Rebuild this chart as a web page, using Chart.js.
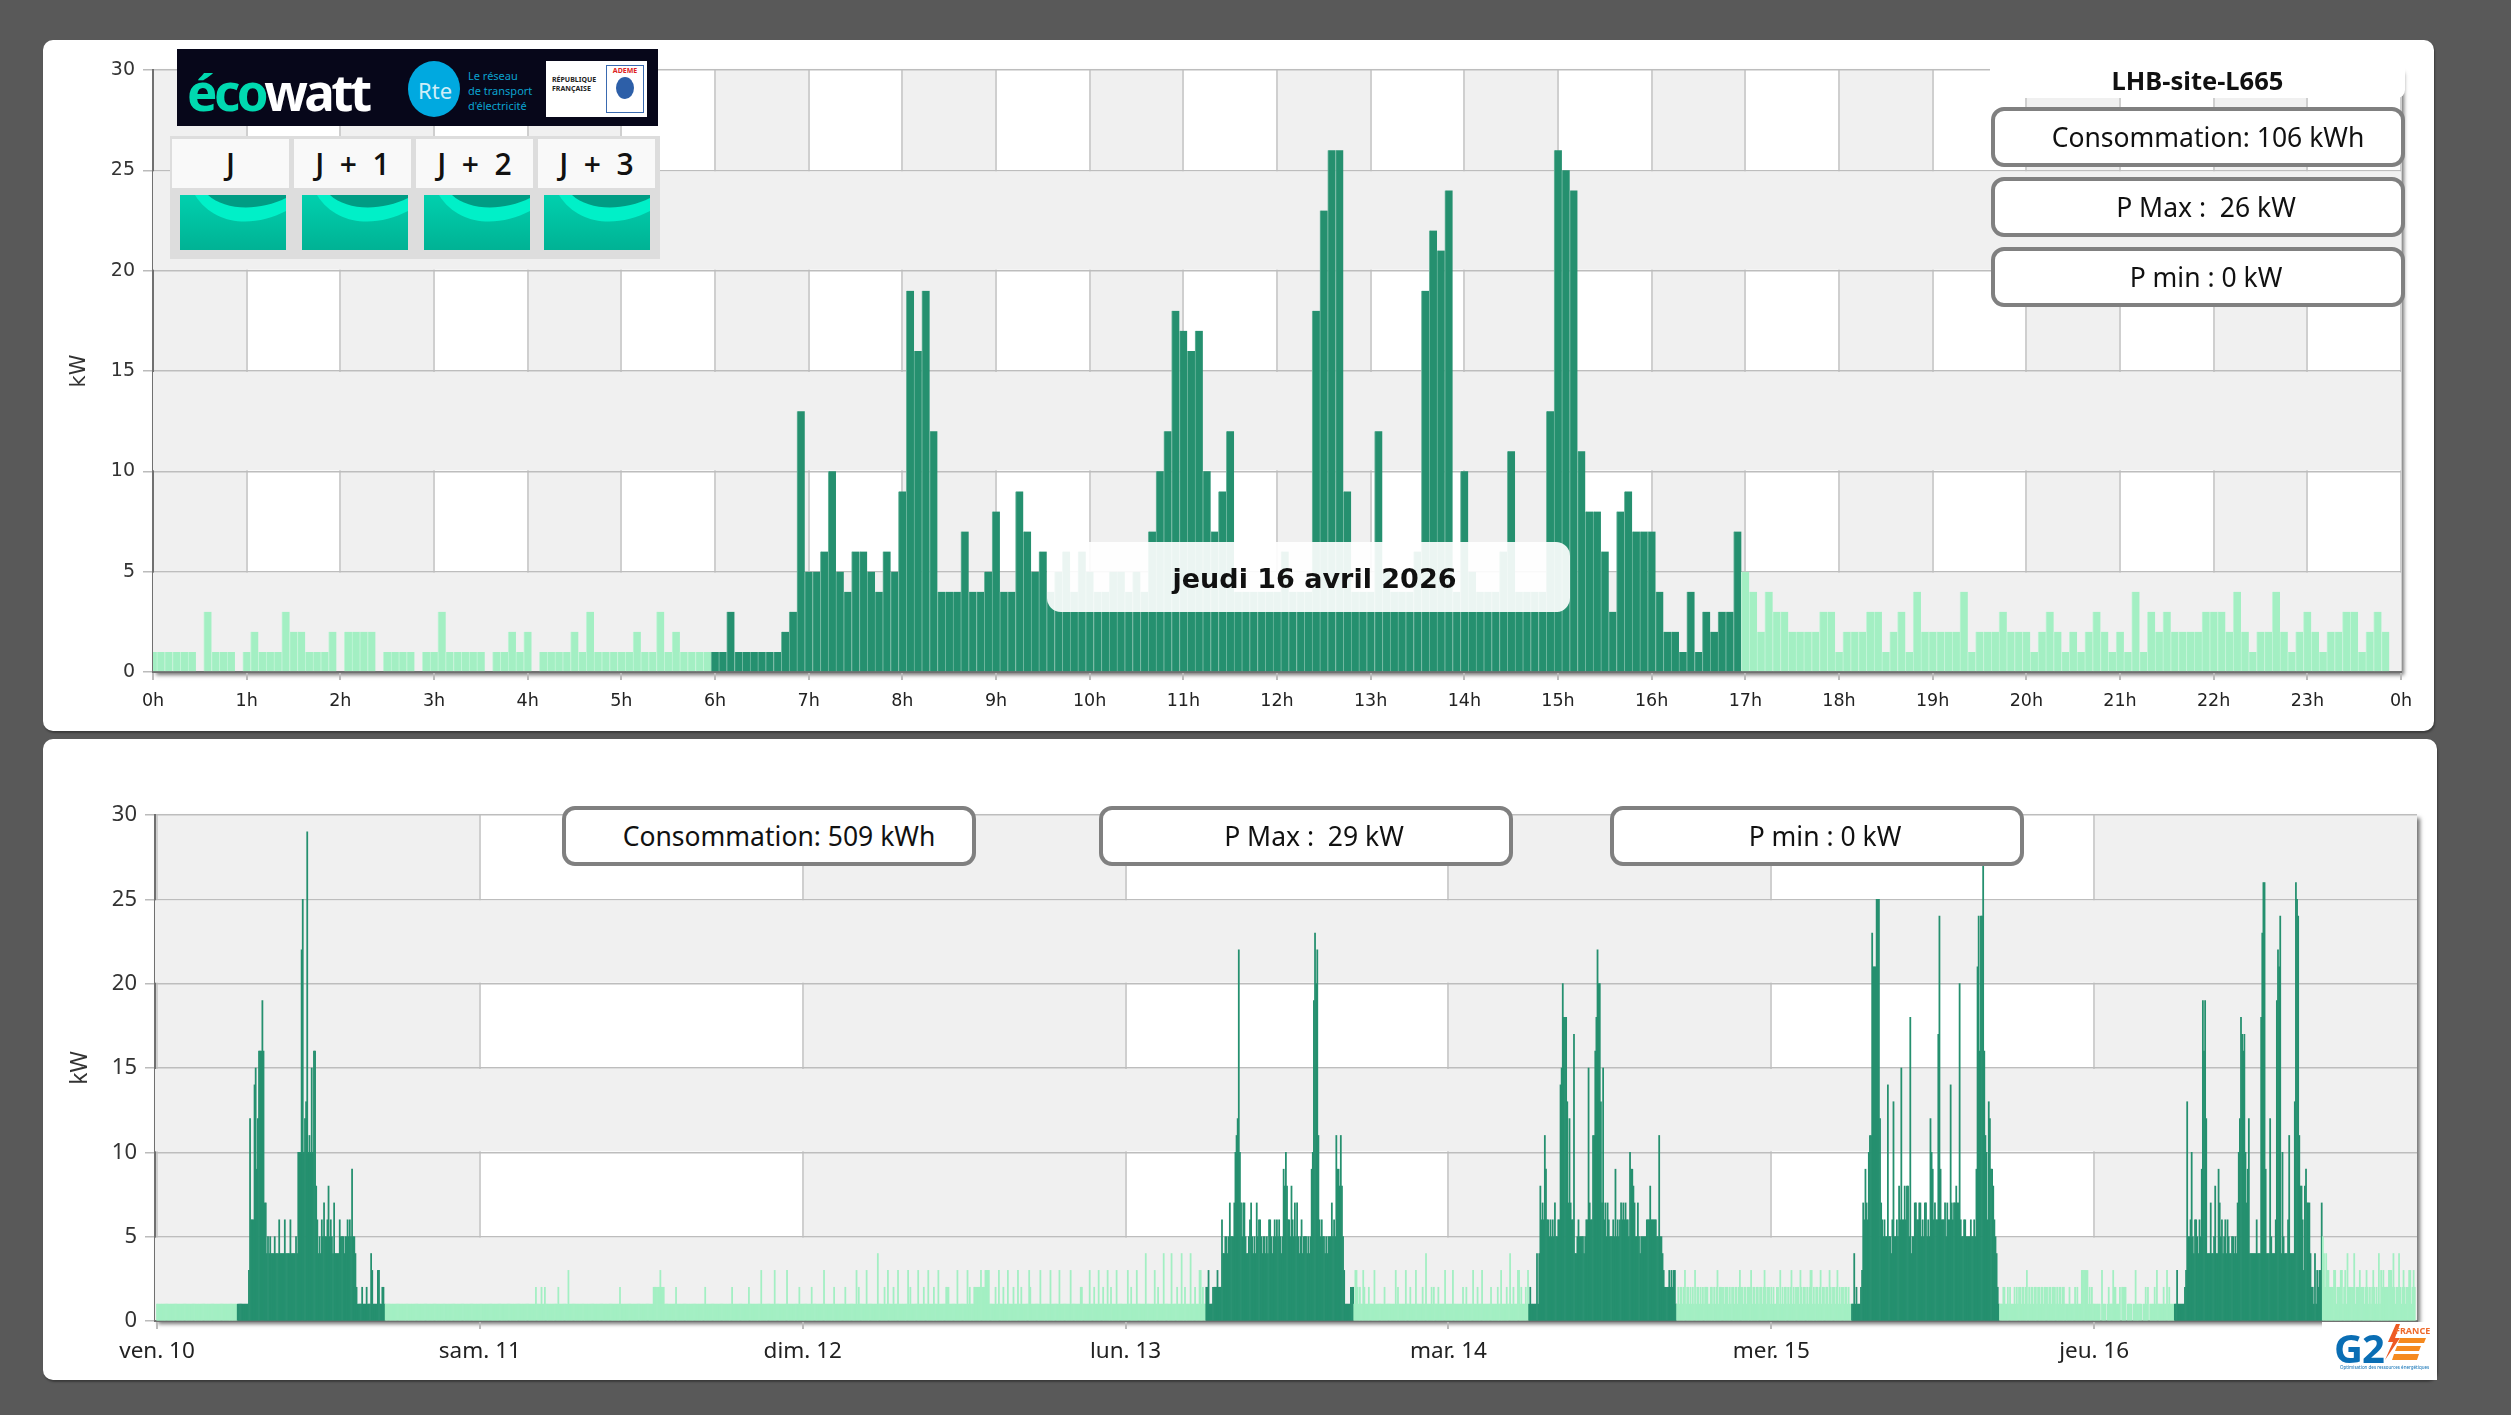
<!DOCTYPE html>
<html lang="fr">
<head>
<meta charset="utf-8">
<title>LHB-site-L665</title>
<script src="https://cdn.jsdelivr.net/npm/chart.js@4"></script>
<style>
    html, body { margin: 0; padding: 0; width: 2511px; height: 1415px; overflow: hidden; background: #595959; }
    .card { position: absolute; background: #fff; border-radius: 10px; box-shadow: 1px 2px 2px rgba(0,0,0,.35); }
    canvas { position: absolute; left: 0; top: 0; }
    .pill { position: absolute; box-sizing: border-box; width: 414px; height: 60px; background: #fff; border: 4px solid #808080; border-radius: 13px;
            font: 26.5px "Noto Sans", sans-serif; color: #111; display: flex; align-items: center; justify-content: center; white-space: pre; }
    #siteTitle { position: absolute; left: 1990px; top: 40px; width: 415px; height: 58px; background: #fff; border-radius: 0 0 8px 0;
            font: bold 25.5px "Noto Sans", sans-serif; color: #111; text-align: center; line-height: 80px; }
    #dateBox { position: absolute; left: 1047px; top: 542px; width: 523px; height: 70px; border-radius: 14px; background: rgba(255,255,255,.91);
            font: bold 27px "DejaVu Sans", sans-serif; color: #111; display: flex; align-items: center; justify-content: center; padding: 3px 0 0 12px; box-sizing: border-box; }
    #ecoLogo { position: absolute; left: 177px; top: 49px; width: 481px; height: 77px; background: #07071a; overflow: hidden; }
    #ecoLogo span { position: absolute; white-space: nowrap; }
    #ecoTable { position: absolute; left: 170px; top: 136px; width: 490px; height: 123px; background: #ddd; }
    .jHead { position: absolute; top: 3px; width: 117px; height: 49px; background: rgba(255,255,255,.82); font: 600 30px "Open Sans", sans-serif; color: #111;
            display: flex; align-items: center; justify-content: center; white-space: pre; }
    .jCell { position: absolute; top: 59px; width: 106px; height: 55px; }
    #g2Logo { position: absolute; left: 2322px; top: 1322px; width: 115px; height: 58px; background: #fff; }
    #g2Logo span { position: absolute; white-space: nowrap; }
</style>
</head>
<body>
<div class="card" style="left:43px;top:40px;width:2391px;height:691px"><canvas id="day-chart" width="2391" height="691"></canvas></div>
<div class="card" style="left:43px;top:739px;width:2394px;height:641px"><canvas id="week-chart" width="2394" height="641"></canvas></div>

<div id="ecoLogo">
    <span style="left:10px;top:7px;font:bold 51px 'Noto Sans',sans-serif;letter-spacing:-3.5px;color:#00d9b0">éco<span style="position:static;color:#fff">watt</span></span>
    <svg style="position:absolute;left:231px;top:12px" width="52" height="56"><ellipse cx="26" cy="28" rx="26" ry="28" fill="#00a9e0"/></svg>
    <span style="left:241px;top:26px;font:22px 'Noto Sans',sans-serif;color:#cfeef8">Rte</span>
    <span style="left:291px;top:19px;font:11px/15px 'Noto Sans',sans-serif;color:#0aa2cf">Le réseau<br>de transport<br>d'électricité</span>
    <div style="position:absolute;left:369px;top:12px;width:101px;height:56px;background:#fff">
        <span style="left:6px;top:14px;font:bold 7px/9px 'Noto Sans',sans-serif;color:#222">RÉPUBLIQUE<br>FRANÇAISE</span>
        <span style="left:60px;top:4px;width:36px;height:46px;border:1px solid #3a6ab0;font:bold 7px 'Noto Sans',sans-serif;color:#d22;text-align:center">ADEME</span>
        <svg style="position:absolute;left:69px;top:16px" width="20" height="22"><ellipse cx="10" cy="11" rx="9" ry="11" fill="#2d5fa8"/></svg>
    </div>
</div>
<div id="ecoTable">
    <div class="jHead" style="left:2px">J</div>
    <div class="jHead" style="left:124px">J  +  1</div>
    <div class="jHead" style="left:246px">J  +  2</div>
    <div class="jHead" style="left:368px">J  +  3</div>
    <svg class="jCell" style="left:10px" viewBox="0 0 106 55" preserveAspectRatio="none"><use href="#wave"/></svg>
    <svg class="jCell" style="left:132px" viewBox="0 0 106 55" preserveAspectRatio="none"><use href="#wave"/></svg>
    <svg class="jCell" style="left:254px" viewBox="0 0 106 55" preserveAspectRatio="none"><use href="#wave"/></svg>
    <svg class="jCell" style="left:374px" viewBox="0 0 106 55" preserveAspectRatio="none"><use href="#wave"/></svg>
</div>
<svg width="0" height="0" style="position:absolute">
    <defs>
        <linearGradient id="waveFill" x1="0" y1="0" x2="0" y2="1"><stop offset="0" stop-color="#00d0ae"/><stop offset="1" stop-color="#00b294"/></linearGradient>
        <g id="wave">
            <rect width="106" height="55" fill="url(#waveFill)"/>
            <path d="M15 0 C35 32 75 32 106 16 L106 0 Z" fill="#00f0c8"/>
            <path d="M28 0 C45 16 80 16 106 3 L106 0 Z" fill="#009c84"/>
        </g>
    </defs>
</svg>

<div id="siteTitle">LHB-site-L665</div>
<div class="pill" style="left:1991px;top:107px;padding-left:20px">Consommation: 106 kWh</div>
<div class="pill" style="left:1991px;top:177px;padding-left:16px">P Max :  26 kW</div>
<div class="pill" style="left:1991px;top:247px;padding-left:16px">P min : 0 kW</div>
<div id="dateBox">jeudi 16 avril 2026</div>

<div class="pill" style="left:562px;top:806px;padding-left:20px">Consommation: 509 kWh</div>
<div class="pill" style="left:1099px;top:806px;padding-left:16px">P Max :  29 kW</div>
<div class="pill" style="left:1610px;top:806px;padding-left:16px">P min : 0 kW</div>

<div id="g2Logo">
    <span style="left:12px;top:6px;font:bold 40px/40px 'Noto Sans',sans-serif;letter-spacing:-1px;color:#0a6eb4">G2</span>
    <svg style="position:absolute;left:58px;top:0" width="50" height="42">
        <path d="M16 2 L8 20 L13 20 L5 38 L20 16 L15 16 L20 2 Z" fill="#ee5a24"/>
        <path d="M20 16 L46 16 L44 21 L18 21 Z M17 24 L41 24 L39 29 L15 29 Z M14 32 L39 32 L37 38 L12 38 Z" fill="#f58a1f"/>
    </svg>
    <span style="left:73px;top:2px;font:bold 9px 'Noto Sans',sans-serif;color:#ee6a2c">FRANCE</span>
    <span style="left:18px;top:42px;font:4.5px 'Noto Sans',sans-serif;color:#0a6eb4">Optimisation des ressources énergétiques</span>
</div>

<script>
// Day view and 7 day view of site power, 5 minute bars

const GREEN_WORK = '#25906f';
const GREEN_OFF = '#a3efc3';
const GAP_WORK = '#6fb79f';
const GAP_OFF = '#c3f5d8';
const BAND_GREY = '#f0f0f0';

const HOUR_LABELS = ['0h','1h','2h','3h','4h','5h','6h','7h','8h','9h','10h','11h','12h','13h','14h','15h','16h','17h','18h','19h','20h','21h','22h','23h','0h'];
const DAY_LABELS = ['ven. 10','sam. 11','dim. 12','lun. 13','mar. 14','mer. 15','jeu. 16'];
const DAY_WORKED = [true, false, false, true, true, true, true];
const WORK_START = 72;   // 6h
const WORK_END = 204;    // 17h
const Y_TICK_MAX = 30;

const friday10 = [
    1,1,1,1,1,1,1,1,1,1,1,1,1,1,1,1,1,1,1,1,1,1,1,1,
    1,1,1,1,1,1,1,1,1,1,1,1,1,1,1,1,1,1,1,1,1,1,1,1,
    1,1,1,1,1,1,1,1,1,1,1,1,1,1,1,1,1,1,1,1,1,1,1,1,
    1,1,1,1,1,1,1,1,1,1,3,12,6,6,6,14,15,9,12,16,16,16,19,16,
    7,7,4,5,4,5,4,4,4,5,4,4,4,6,4,4,4,4,6,4,4,4,4,6,
    4,4,4,4,5,4,10,10,10,22,25,10,12,13,29,10,11,10,15,10,16,16,8,6,
    4,5,4,6,5,7,5,5,6,8,5,6,5,4,7,4,4,4,4,6,5,5,5,4,
    5,5,6,5,6,5,9,5,5,4,2,1,1,1,1,2,1,1,1,2,1,1,1,4,
    3,1,1,1,1,3,3,1,1,2,2,1,1,1,1,1,1,1,1,1,1,1,1,1,
    1,1,1,1,1,1,1,1,1,1,1,1,1,1,1,1,1,1,1,1,1,1,1,1,
    1,1,1,1,1,1,1,1,1,1,1,1,1,1,1,1,1,1,1,1,1,1,1,1,
    1,1,1,1,1,1,1,1,1,1,1,1,1,1,1,1,1,1,1,1,1,1,1,1
];
const saturday11 = [
    1,1,1,1,1,1,1,1,1,1,1,1,1,1,1,1,1,1,1,1,1,1,1,1,
    1,1,1,1,1,1,1,1,1,1,1,1,1,1,1,1,1,1,1,1,1,1,1,1,
    1,1,2,1,1,1,1,2,1,1,2,1,1,1,1,1,1,1,1,1,1,1,2,1,
    1,1,1,1,1,1,1,3,1,1,1,1,1,1,1,1,1,1,1,1,1,1,1,1,
    1,1,1,1,1,1,1,1,1,1,1,1,1,1,1,1,1,1,1,1,1,1,1,1,
    1,1,1,1,1,2,1,1,1,1,1,1,1,1,1,1,1,1,1,1,1,1,1,1,
    1,1,1,1,1,1,1,1,1,1,1,2,2,2,2,2,2,3,2,2,2,1,1,1,
    1,1,1,1,1,1,1,2,1,1,1,1,1,1,1,1,1,1,1,1,1,1,1,1,
    1,1,1,1,1,1,1,1,1,2,1,1,1,1,1,1,1,1,1,1,1,1,1,1,
    1,1,1,1,1,1,1,1,1,2,1,1,1,1,1,1,1,1,1,1,1,1,1,1,
    2,1,1,1,1,1,1,1,1,1,1,3,1,1,1,1,1,1,1,1,1,1,1,3,
    1,1,1,1,1,1,1,1,1,1,3,1,1,1,1,1,1,1,1,1,1,2,1,1
];
const sunday12 = [
    1,1,1,1,1,1,1,1,2,1,1,1,1,1,1,1,1,1,1,3,1,1,1,1,
    1,1,1,1,2,1,1,1,1,1,1,1,1,1,2,1,1,1,1,1,1,1,1,1,
    3,1,2,1,1,1,1,1,1,3,1,1,1,1,1,1,1,1,1,4,1,1,1,1,
    1,2,1,1,3,1,1,1,1,2,1,1,1,3,1,1,1,1,1,1,1,1,3,1,
    2,1,1,1,1,1,1,3,1,1,1,1,2,1,1,1,3,1,1,1,1,2,1,1,
    1,3,1,1,1,1,1,1,2,2,2,1,1,1,1,1,1,1,3,1,1,1,1,1,
    1,1,1,3,1,2,1,1,1,2,2,2,2,2,2,3,2,2,2,3,3,3,3,1,
    1,1,1,1,2,1,1,3,1,1,1,2,1,1,1,3,1,1,1,1,2,1,1,1,
    3,1,1,2,1,1,1,1,1,1,3,2,1,1,1,1,1,1,1,1,3,1,1,1,
    1,1,1,1,1,3,1,1,1,1,1,1,1,3,1,1,1,1,1,1,1,1,1,3,
    1,1,1,1,1,1,1,1,2,2,1,1,1,1,1,1,3,1,1,1,2,1,1,1,
    3,1,1,1,2,1,1,1,3,1,1,2,1,1,1,1,3,1,1,1,1,1,1,1
];
const monday13 = [
    1,1,3,1,1,2,1,1,1,1,3,1,1,1,1,1,1,1,4,1,1,1,1,1,
    1,1,3,1,1,2,1,1,1,1,4,1,1,1,1,1,1,4,1,1,1,1,2,1,
    1,1,4,1,1,2,1,1,1,1,4,1,1,1,2,1,1,1,3,3,1,2,1,1,
    2,2,3,1,1,1,2,2,2,2,3,2,2,2,6,4,4,5,5,4,5,7,5,5,
    5,7,10,11,12,22,10,7,5,7,7,5,4,4,5,6,7,5,4,5,4,7,5,6,
    6,5,4,5,5,4,5,4,6,6,5,4,5,6,5,6,5,6,5,4,5,9,8,10,
    8,6,6,5,8,6,5,7,5,7,5,4,5,6,4,5,5,5,4,5,4,5,9,10,
    19,23,20,22,11,6,5,6,5,5,4,5,4,5,5,5,7,5,6,5,11,9,9,8,
    11,8,5,3,1,1,1,1,1,2,2,2,1,3,3,2,1,2,1,1,3,2,1,1,
    1,2,1,1,1,1,3,1,1,1,1,1,1,1,1,2,1,1,1,1,1,1,1,1,
    1,3,1,2,1,1,1,1,1,1,3,1,1,1,2,1,1,1,1,3,1,1,1,1,
    1,2,1,1,4,1,1,1,1,2,1,2,1,1,1,2,1,1,1,1,1,3,1,1
];
const tuesday14 = [
    1,1,1,1,3,1,1,1,1,1,1,1,1,2,1,1,2,1,1,1,1,1,3,1,
    1,1,2,1,1,1,3,1,1,1,1,1,1,1,2,1,1,1,1,1,2,1,1,3,
    1,1,1,1,2,1,1,4,1,1,2,1,1,1,3,3,1,2,1,1,1,2,1,3,
    1,2,1,1,1,1,1,4,1,4,8,6,7,6,11,9,6,6,5,6,5,6,5,7,
    5,5,6,6,14,15,20,18,18,18,13,7,12,7,6,6,17,4,4,5,6,5,5,5,
    5,4,5,6,6,15,7,6,6,11,11,16,18,22,20,20,13,7,15,6,7,5,7,6,
    5,5,5,6,5,9,5,6,5,6,7,6,7,6,7,6,6,5,10,9,9,8,7,5,
    5,7,5,4,5,5,5,5,5,6,6,6,8,6,6,6,6,6,5,5,11,5,5,4,
    3,2,2,2,2,3,2,3,2,3,3,1,1,2,1,2,2,1,2,3,1,2,2,1,
    2,1,2,1,3,1,2,2,1,2,1,2,1,2,2,2,1,1,2,2,1,2,1,2,
    3,1,2,2,2,2,1,2,2,2,1,2,1,2,2,1,2,2,1,2,3,2,2,1,
    2,2,1,2,2,2,3,1,2,2,1,2,2,1,2,2,1,2,3,2,1,2,2,1
];
const wednesday15 = [
    2,1,2,1,1,2,2,1,3,1,2,1,2,2,1,2,1,2,3,1,2,1,2,2,
    2,1,3,2,1,2,2,1,2,1,2,3,3,1,2,1,2,2,1,2,3,1,2,2,
    1,2,2,1,3,2,1,2,2,1,2,3,1,2,1,2,2,1,2,2,1,2,1,1,
    1,1,4,1,2,1,1,1,2,3,7,6,9,7,6,10,11,11,23,21,21,21,25,25,
    25,12,7,6,5,6,5,5,14,5,5,4,6,13,5,5,6,5,8,6,15,6,6,8,
    6,8,8,5,18,4,5,5,7,7,6,6,7,7,5,6,5,7,7,5,6,5,12,10,
    9,6,7,6,6,17,24,9,6,6,6,7,5,7,6,6,14,7,6,7,7,8,7,7,
    20,6,5,5,6,6,5,5,5,5,6,5,5,6,5,9,21,24,16,24,24,27,16,11,
    10,6,13,12,9,9,8,6,5,4,2,1,1,1,1,2,2,1,1,2,1,2,1,1,
    1,2,1,2,1,2,2,1,2,2,1,2,3,1,2,1,2,2,1,2,2,1,2,2,
    1,2,2,1,2,2,2,1,2,2,1,2,2,2,1,2,1,2,2,1,2,2,1,1,
    1,1,2,1,1,1,1,2,1,2,1,1,1,3,3,3,3,3,3,1,2,1,2,1
];
const thursday16 = [
    1,1,1,1,1,1,0,3,1,1,1,0,1,2,1,1,1,3,2,2,1,1,1,2,
    0,2,2,2,2,0,1,1,1,1,0,1,1,3,1,1,1,1,1,0,1,1,2,1,
    2,0,1,1,1,1,2,1,3,1,1,1,1,1,2,1,1,3,1,2,1,1,1,1,
    1,1,3,1,1,1,1,1,1,2,3,13,5,5,6,10,5,4,6,6,5,4,6,5,
    9,19,16,19,12,4,4,4,7,4,4,5,8,4,4,9,7,5,6,4,5,6,4,6,
    5,4,4,5,5,4,5,4,7,10,12,18,17,16,17,10,7,9,12,4,4,4,4,4,
    4,6,4,4,4,18,23,26,26,9,4,4,4,12,5,4,4,4,6,19,22,21,24,4,
    10,5,4,4,4,6,11,4,4,4,4,13,26,25,24,11,8,8,6,3,8,9,7,7,
    7,4,2,2,1,4,1,3,2,3,3,7,5,4,2,4,3,3,2,2,2,2,3,3,
    1,2,2,2,3,3,1,2,3,1,4,2,2,2,2,2,4,1,2,2,2,3,2,2,
    2,1,2,3,2,1,2,1,2,3,2,1,2,1,4,1,3,2,3,2,2,2,2,3,
    3,3,2,4,2,1,2,2,4,2,1,2,3,2,1,2,2,3,3,1,2,3,2,0
];
const weekDays = [friday10, saturday11, sunday12, monday13, tuesday14, wednesday15, thursday16];

// one bar per 5 minutes, x is the minute it stands on
function toBars(values) {
    return values.map((v, i) => ({ x: i * 5, y: v }));
}

function isWorkBar(dayIndex, i) {
    return DAY_WORKED[dayIndex] && i >= WORK_START && i < WORK_END;
}

// plot background: grey columns under the vertical grid lines, grey rows over them
const bandsPlugin = {
    id: 'bands',
    beforeDraw(chart, args, opts) {
        const { ctx, chartArea: a, scales: { x } } = chart;
        ctx.save();
        ctx.shadowColor = 'rgba(0,0,0,.55)';
        ctx.shadowBlur = 4;
        ctx.shadowOffsetX = 3;
        ctx.shadowOffsetY = 3;
        ctx.fillStyle = '#fff';
        ctx.fillRect(a.left, a.top, a.width, a.height);
        ctx.restore();
        ctx.fillStyle = BAND_GREY;
        for (let v = 0; v < x.max; v += opts.columnStep * 2) {
            const left = v === 0 ? a.left : x.getPixelForValue(v);
            ctx.fillRect(left, a.top, x.getPixelForValue(v + opts.columnStep) - left, a.height);
        }
    },
    beforeDatasetsDraw(chart) {
        const { ctx, chartArea: a, scales: { y } } = chart;
        ctx.fillStyle = BAND_GREY;
        for (let v = 0; v < Y_TICK_MAX; v += 10) {
            const top = y.getPixelForValue(v + 5) + 1;
            ctx.fillRect(a.left, top, a.width, y.getPixelForValue(v) - top - 1);
        }
    }
};

function createChart(canvasId, cfg) {
    const ctx = document.getElementById(canvasId).getContext('2d');
    return new Chart(ctx, {
        type: 'bar',
        data: {
            datasets: [{
                data: cfg.bars,
                backgroundColor: c => cfg.work(c.dataIndex) ? GREEN_WORK : GREEN_OFF,
                borderColor: c => cfg.work(c.dataIndex) ? GAP_WORK : GAP_OFF,
                borderWidth: cfg.gap ? { left: 1, right: 0, top: 0, bottom: 0 } : 0,
                borderSkipped: false,
                barPercentage: 1,
                categoryPercentage: 1
            }]
        },
        plugins: [bandsPlugin],
        options: {
            responsive: false,
            animation: false,
            maintainAspectRatio: false,
            layout: { padding: cfg.padding },
            plugins: {
                legend: { display: false },
                tooltip: { enabled: false },
                bands: { columnStep: cfg.step }
            },
            scales: {
                x: {
                    type: 'linear',
                    offset: false,
                    min: cfg.xMin,
                    max: cfg.xMax,
                    afterFit: s => { s.height = cfg.xHeight; },
                    // ticks on whole steps even when the axis starts a little before 0
                    afterBuildTicks: s => {
                        const ticks = [];
                        for (let v = 0; v <= cfg.xMax; v += cfg.step) ticks.push({ value: v });
                        s.ticks = ticks;
                    },
                    grid: { offset: false, color: '#cfcfcf', lineWidth: 2, tickLength: 8, tickColor: '#bbb' },
                    border: { color: '#707070', width: 2 },
                    ticks: {
                        stepSize: cfg.step,
                        autoSkip: false,
                        maxRotation: 0,
                        padding: cfg.xTickPad,
                        color: '#222',
                        font: cfg.xFont,
                        callback: cfg.xLabel
                    }
                },
                y: {
                    min: 0,
                    max: Y_TICK_MAX,
                    afterFit: s => { s.width = cfg.yWidth; },
                    grid: { color: '#bdbdbd', lineWidth: 1.5, tickLength: 10, tickColor: '#bbb' },
                    border: { color: '#707070', width: 2 },
                    title: { display: true, text: 'kW', color: '#333', font: cfg.titleFont, padding: { top: 0, bottom: 0 } },
                    ticks: { stepSize: 5, color: '#333', padding: 8, font: cfg.yFont }
                }
            }
        }
    });
}

createChart('day-chart', {
    bars: toBars(thursday16),
    work: i => isWorkBar(6, i),
    gap: true,
    step: 60,
    xMin: 0,
    xMax: 1440,
    xLabel: v => HOUR_LABELS[v / 60],
    xFont: { family: 'DejaVu Sans', size: 17.5 },
    yFont: { family: 'DejaVu Sans', size: 19 },
    titleFont: { family: 'DejaVu Sans', size: 21 },
    yWidth: 86,
    xHeight: 59,
    xTickPad: 11,
    padding: { left: 24, right: 33, top: 30, bottom: 0 }
});

createChart('week-chart', {
    bars: toBars(weekDays.flat()),
    work: i => isWorkBar(Math.floor(i / 288), i % 288),
    gap: false,
    step: 1440,
    xMin: -9,
    xMax: 7 * 1440,
    xLabel: v => DAY_LABELS[v / 1440],
    xFont: { family: 'Noto Sans', size: 22.5 },
    yFont: { family: 'Noto Sans', size: 22 },
    titleFont: { family: 'Noto Sans', size: 23 },
    yWidth: 88,
    xHeight: 59,
    xTickPad: 9,
    padding: { left: 24, right: 20, top: 76, bottom: 0 }
});
</script>
</body>
</html>
